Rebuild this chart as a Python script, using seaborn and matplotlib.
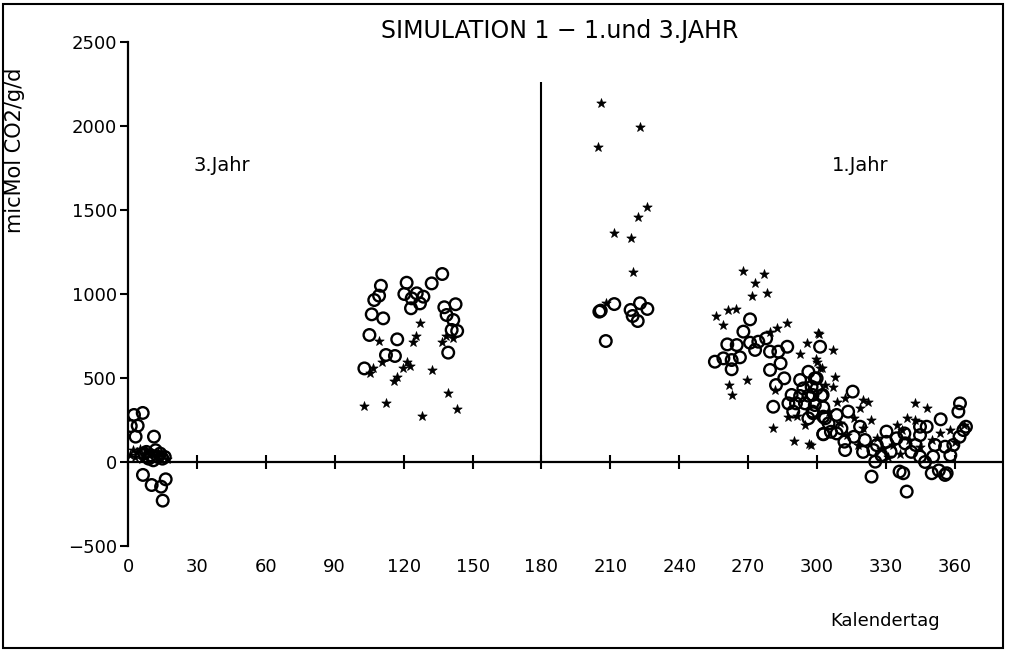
import numpy as np
import pandas as pd
import matplotlib
matplotlib.use("Agg")
import matplotlib.pyplot as plt
import seaborn as sns
from matplotlib.patches import Rectangle

# open circles (day, value)
circle_day = [2.6, 6.4, 1.2, 4.2, 3.3, 11.3, 6.5, 10.3, 14.4, 16.4, 15.1,
              8, 10, 12, 13, 15, 9, 11, 14, 16, 7,
              110.1, 107.2, 109.3, 106.1, 111.1, 105.1, 117.2, 112.3, 116.2, 102.9,
              121.3, 120.3, 123.5, 125.7, 128.6, 127.1, 123.2, 132.2, 136.8, 137.7,
              142.6, 138.7, 141.6, 140.9, 143.3, 139.4,
              205.2, 205.8, 211.7, 218.8, 222.9, 226.1, 219.7, 221.9, 208.0,
              270.8, 267.9, 260.9, 265.0, 270.8, 274.4, 277.8, 255.5, 259.2, 262.8,
              266.4, 262.8, 273.0, 279.5, 283.1, 287.0, 284.1, 279.5, 285.7, 282.1,
              280.9, 292.6, 296.2, 299.8, 294.0, 297.6, 288.9, 292.6, 296.2, 302.0,
              287.5, 290.8, 294.7, 289.6, 298.3, 296.2, 302.7, 302.7,
              301.3, 299.0, 299.8, 302.4, 298.0, 299.0, 302.7, 298.0, 303.5, 302.7,
              315.5, 308.5, 313.5, 310.6, 308.5, 311.9, 312.2, 318.7, 320.8, 324.5,
              325.3, 323.7, 330.2, 330.2, 334.6, 335.9, 338.0, 362.2, 361.5, 353.8,
              364.8, 363.7, 344.8, 347.7, 344.8, 338.3, 342.9, 351.3, 355.7, 359.3,
              337.5, 349.9, 356.4, 353.0, 344.8, 350.5, 339.0, 355.7, 328.0, 332.0,
              341.0, 347.0, 358.0, 362.0, 326.0, 316.0, 320.0, 305.0, 306.0]
circle_val = [280, 292, 214, 216, 151, 151, -77, -137, -147, -103, -230,
              60, 40, 70, 30, 20, 20, 10, 50, 30, 50,
              1049, 964, 990, 879, 855, 756, 730, 637, 631, 557,
              1067, 1000, 974, 1004, 984, 944, 915, 1063, 1119, 921,
              939, 875, 845, 786, 780, 651,
              895, 901, 940, 905, 945, 911, 869, 839, 720,
              849, 776, 700, 696, 710, 716, 736, 597, 617, 607,
              623, 552, 667, 657, 657, 686, 587, 548, 498, 458,
              329, 488, 537, 498, 438, 448, 399, 393, 395, 395,
              349, 349, 349, 300, 290, 260, 270, 165,
              686, 498, 438, 399, 399, 339, 325, 300, 260, 167,
              419, 280, 300, 200, 170, 121, 71, 210, 131, 71,
              2, -87, 181, 120, 141, -57, 170, 349, 300, 254,
              210, 190, 210, 210, 160, 111, 101, 101, 91, 101,
              -67, -67, -67, -50, 32, 32, -176, -77, 40, 60,
              60, 0, 40, 150, 100, 150, 60, 230, 180]

# filled stars (day, value)
star_day = [1, 2, 3, 4, 5, 6, 7, 8, 9, 10, 12, 13, 15, 17,
            127.1, 125.4, 124.2, 109.4, 136.6, 138.4, 141.6, 110.7, 106.8, 105.4,
            121.3, 122.8, 119.9, 132.2, 117.0, 115.8, 102.9, 112.2, 128.0, 139.4, 143.4,
            205.8, 222.9, 204.7, 226.1, 221.9, 211.7, 218.8, 219.7, 208.1,
            267.9, 276.9, 273.0, 271.8, 278.0, 261.0, 264.9, 255.9, 258.9, 282.7,
            286.7, 279.5, 300.5, 295.4, 292.6, 299.5, 301.3, 261.8, 262.8, 269.3,
            280.9, 289.9, 296.6, 287.5, 291.1, 294.7, 281.7,
            301.0, 306.8, 299.8, 302.0, 307.8, 306.8, 303.4, 322.3, 320.1, 308.5,
            318.7, 323.3, 334.6, 297.3, 342.6, 348.0, 342.6, 353.5, 357.9, 337.0,
            340.0, 310.0, 313.0, 316.0, 326.0, 328.0, 331.0, 336.0, 345.0, 350.0,
            360.0, 364.0, 318.0, 305.0, 312.0, 320.0, 339.0, 333.0]
star_val = [40, 70, 30, 60, 80, 20, 50, 70, 40, 60, 30, 60, 40, 20,
            829, 750, 714, 722, 716, 750, 736, 597, 557, 528,
            597, 571, 557, 548, 508, 482, 335, 353, 276, 409, 314,
            2135, 1996, 1873, 1516, 1460, 1361, 1335, 1131, 945,
            1137, 1119, 1067, 988, 1008, 905, 913, 869, 815, 795,
            829, 776, 766, 710, 643, 611, 557, 458, 399, 488,
            200, 127, 105, 270, 276, 220, 429,
            762, 667, 597, 557, 504, 448, 458, 359, 369, 359,
            319, 250, 220, 101, 353, 319, 250, 171, 190, 190,
            130, 230, 160, 260, 140, 80, 30, 50, 90, 130,
            120, 220, 100, 300, 380, 200, 260, 100]

x_ticks = [0, 30, 60, 90, 120, 150, 180, 210, 240, 270, 300, 330, 360]
y_ticks = [-500, 0, 500, 1000, 1500, 2000, 2500]

df_c = pd.DataFrame({'tag': circle_day, 'wert': circle_val})
df_s = pd.DataFrame({'tag': star_day, 'wert': star_val})

sns.set_style('white')
plt.rcParams['font.family'] = ['DejaVu Sans']
plt.rcParams.update({'text.color': 'black', 'axes.labelcolor': 'black',
                     'xtick.color': 'black', 'ytick.color': 'black',
                     'axes.edgecolor': 'black'})

fig = plt.figure(figsize=(10.12, 6.51), dpi=100)
ax = fig.add_axes([0.1265, 0.1613, 0.8625, 0.7742])

sns.scatterplot(data=df_c, x='tag', y='wert', marker='o', s=70,
                facecolor='none', edgecolor='black', linewidth=1.7, ax=ax)
sns.scatterplot(data=df_s, x='tag', y='wert', marker='*', s=50,
                color='black', edgecolor='black', linewidth=0.5, ax=ax)

ax.vlines(180, 0, 2260, color='black', lw=1.5)

ax.set_xlim(0, 380)
ax.set_ylim(-500, 2500)
ax.set_xticks(x_ticks)
ax.set_yticks(y_ticks)
ax.set_yticklabels(['\u2212500', '0', '500', '1000', '1500', '2000', '2500'])

for s in ['top', 'right']:
    ax.spines[s].set_visible(False)
ax.spines['bottom'].set_position(('data', 0))
ax.spines['bottom'].set_linewidth(1.6)
ax.spines['left'].set_linewidth(1.6)
ax.tick_params(axis='x', bottom=True, direction='inout', length=10, width=1.5,
               pad=64, labelsize=13)
ax.tick_params(axis='y', left=True, direction='out', length=6, width=1.5,
               pad=2, labelsize=13)

ax.set_xlabel('Kalendertag', fontsize=13)
ax.xaxis.set_label_coords(0.867, -0.131)
ax.set_ylabel('micMol CO2/g/d', fontsize=15)
ax.yaxis.set_label_coords(-0.118, 0.786)

ax.text(41, 1762, '3.Jahr', fontsize=14, ha='center', va='center')
ax.text(318.7, 1762, '1.Jahr', fontsize=14, ha='center', va='center')
fig.text(0.553, 0.952, 'SIMULATION 1 \u2212 1.und 3.JAHR', fontsize=17,
         ha='center', va='center')

fig.patches.append(Rectangle((0.003, 0.004), 0.988, 0.99, transform=fig.transFigure,
                             fill=False, edgecolor='black', lw=1.5))

fig.savefig('out.png', dpi=100)
